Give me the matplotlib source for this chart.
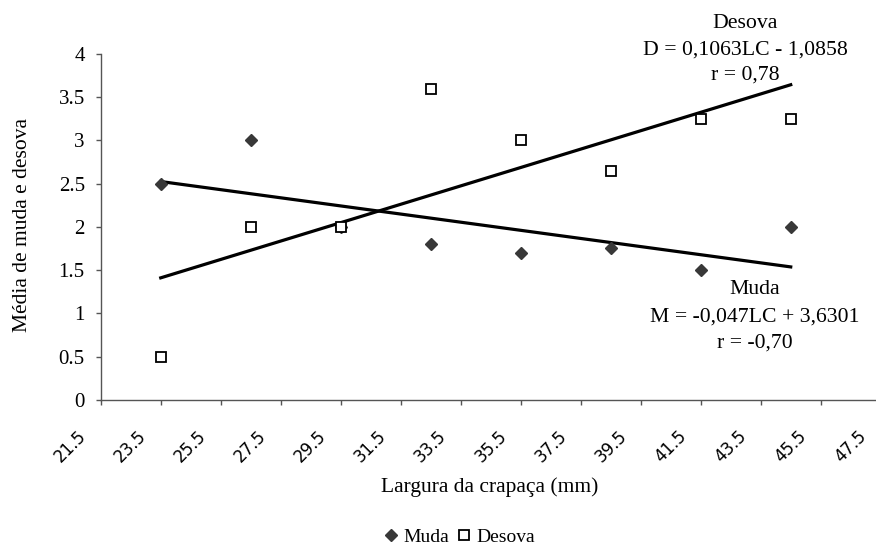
import matplotlib
matplotlib.use("Agg")
import matplotlib.pyplot as plt
from matplotlib.transforms import ScaledTranslation
import numpy as np

plt.rcParams['font.family'] = ['Liberation Serif', 'DejaVu Serif']

# Largura da carapaça (mm)
largura = [23.5, 26.5, 29.5, 32.5, 35.5, 38.5, 41.5, 44.5]
muda = [2.5, 3.0, 2.0, 1.8, 1.7, 1.76, 1.5, 2.0]
desova = [0.5, 2.0, 2.0, 3.6, 3.0, 2.65, 3.25, 3.25]

# regression coefficients as printed on the chart
coef_muda = (-0.047, 3.6301)
coef_desova = (0.1063, -1.0858)

x_ticks = [21.5, 23.5, 25.5, 27.5, 29.5, 31.5, 33.5, 35.5, 37.5, 39.5, 41.5, 43.5, 45.5, 47.5]
y_ticks = [0, 0.5, 1, 1.5, 2, 2.5, 3, 3.5, 4]
y_labels = ['0', '0.5', '1', '1.5', '2', '2.5', '3', '3.5', '4']

fig = plt.figure(figsize=(8.76, 5.46), dpi=100)
ax = fig.add_axes([0.115, 0.2674, 0.8904, 0.6337])

# trend lines
xl = np.array([largura[0], largura[-1]])
ax.plot(xl, coef_muda[0] * xl + coef_muda[1], color='black', lw=2.3, zorder=2)
ax.plot(xl, coef_desova[0] * xl + coef_desova[1], color='black', lw=2.3, zorder=2)

ax.plot(largura, muda, linestyle='none', marker='D', markersize=6.5,
        color='#383838', label='Muda', zorder=3)
ax.plot(largura, desova, linestyle='none', marker='s', markersize=6.8,
        markerfacecolor='white', markeredgecolor='black', markeredgewidth=1.3,
        label='Desova', zorder=3)

ax.set_xlim(21.5, 47.5)
ax.set_ylim(0, 4)
ax.set_xticks(x_ticks)
ax.set_xticklabels([str(t) for t in x_ticks], rotation=45, ha='right', va='center',
                   rotation_mode='anchor', family='DejaVu Sans', fontsize=12)
ax.set_yticks(y_ticks)
ax.set_yticklabels(y_labels, fontsize=15)
ax.tick_params(axis='both', direction='out', length=3.6, color='#555555', width=1)
ax.tick_params(axis='x', pad=0)
ax.tick_params(axis='y', pad=7.9)

# shift rotated labels the way the original puts them
shift = ScaledTranslation(-17 / 100, -28 / 100, fig.dpi_scale_trans)
for lab in ax.get_xticklabels():
    lab.set_transform(lab.get_transform() + shift)

for s in ['top', 'right']:
    ax.spines[s].set_visible(False)
for s in ['left', 'bottom']:
    ax.spines[s].set_color('#555555')
    ax.spines[s].set_linewidth(1)

fig.text(490 / 876, 1 - 487 / 546, 'Largura da crapaça (mm)', fontsize=15.5,
         ha='center', va='center')
fig.text(23 / 876, 1 - 225 / 546, 'Média de muda e desova', fontsize=15.5,
         rotation=90, ha='center', va='center')

# equation boxes, one line at a time
desova_txt = ['Desova', 'D = 0,1063LC - 1,0858', 'r = 0,78']
for txt, y in zip(desova_txt, [23, 50, 75]):
    fig.text(745 / 876, 1 - y / 546, txt, fontsize=15.7, ha='center', va='center')
muda_txt = ['Muda', 'M = -0,047LC + 3,6301', 'r = -0,70']
for txt, y in zip(muda_txt, [289, 317, 343]):
    fig.text(755 / 876, 1 - y / 546, txt, fontsize=15.7, ha='center', va='center')

fig.legend(loc='center', bbox_to_anchor=(460 / 876, 1 - 537 / 546), ncol=2,
           frameon=False, fontsize=14, handlelength=0.6, handletextpad=0.3,
           columnspacing=0.5, borderpad=0)

fig.savefig('out.png', dpi=100)
